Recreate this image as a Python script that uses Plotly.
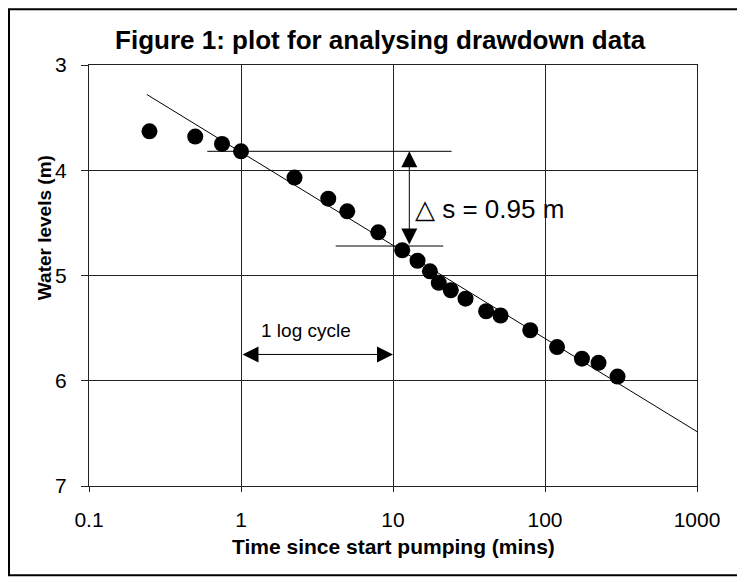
import plotly.graph_objects as go
import numpy as np

time_min = [0.25, 0.5, 0.75, 1, 2.25, 3.75, 5, 8, 11.5, 14.5, 17.5, 20, 24, 30,
            41, 51, 80, 120, 175, 225, 300]
water_level = [3.63, 3.68, 3.75, 3.82, 4.07, 4.27, 4.39, 4.59, 4.76, 4.86, 4.96,
               5.07, 5.14, 5.22, 5.34, 5.38, 5.52, 5.68, 5.79, 5.83, 5.96]

# Straight line fitted by eye (end points)
fit_time = [0.24, 1100]
fit_level = [3.28, 6.52]

# Axis ticks
x_tickvals = [0.1, 1, 10, 100, 1000]
x_ticktext = ["0.1", "1", "10", "100", "1000"]
y_tickvals = [3, 4, 5, 6, 7]

FONT = "Liberation Sans, Arial, sans-serif"

fig = go.Figure()

fig.add_trace(go.Scatter(
    x=fit_time, y=fit_level, mode="lines",
    line=dict(color="black", width=1), showlegend=False, hoverinfo="skip"
))
fig.add_trace(go.Scatter(
    x=time_min, y=water_level, mode="markers",
    marker=dict(color="black", size=16), showlegend=False
))

# delta-s construction lines
fig.add_shape(type="line", x0=0.60, x1=24.3, y0=3.82, y1=3.82,
              line=dict(color="black", width=1))
fig.add_shape(type="line", x0=4.2, x1=21.4, y0=4.72, y1=4.72,
              line=dict(color="black", width=1))

lx = np.log10(12.8)
fig.add_annotation(x=lx, y=3.82, ax=lx, ay=4.72, xref="x", yref="y",
                   axref="x", ayref="y", text="", showarrow=True,
                   arrowhead=2, arrowsize=3.2, arrowwidth=1, arrowside="end+start",
                   startarrowhead=2, startarrowsize=3.2, arrowcolor="black")
fig.add_annotation(x=np.log10(13.5), y=4.37, text="\u25b3 s = 0.95 m", showarrow=False,
                   xanchor="left", yanchor="middle", font=dict(size=26, color="black", family=FONT))

# 1 log cycle arrow
fig.add_annotation(x=1, y=5.75, ax=0, ay=5.75, xref="x", yref="y",
                   axref="x", ayref="y", text="", showarrow=True,
                   arrowhead=2, arrowsize=3.2, arrowwidth=1, arrowside="end+start",
                   startarrowhead=2, startarrowsize=3.2, arrowcolor="black")
fig.add_annotation(x=np.log10(2.68), y=5.52, text="1 log cycle", showarrow=False,
                   font=dict(size=19, color="black", family=FONT))

# axis titles
fig.add_annotation(x=0.5, y=-0.143, xref="paper", yref="paper", showarrow=False,
                   xanchor="center", yanchor="middle",
                   text="<b>Time since start pumping (mins)</b>",
                   font=dict(size=21, color="black", family=FONT))
fig.add_annotation(x=-0.072, y=0.613, xref="paper", yref="paper", showarrow=False,
                   xanchor="center", yanchor="middle",
                   textangle=-90, text="<b>Water levels (m)</b>",
                   font=dict(size=19, color="black", family=FONT))

# outer frame
fig.add_shape(type="rect", xref="paper", yref="paper",
              x0=-0.1316, x1=1.069, y0=-0.212, y1=1.1327,
              line=dict(color="black", width=2))

fig.update_layout(
    width=737, height=574,
    margin=dict(l=81, r=48, t=57, b=96),
    plot_bgcolor="white", paper_bgcolor="white",
    font=dict(family=FONT, color="black", size=20),
    title=dict(text="<b>Figure 1: plot for analysing drawdown data</b>",
               x=0.505, xref="container", xanchor="center",
               y=0.944, yref="container", yanchor="middle",
               font=dict(size=26, color="black", family=FONT)),
)

fig.update_xaxes(type="log", range=[-1, 3], tickvals=x_tickvals, ticktext=x_ticktext,
                 showgrid=True, gridcolor="#222", gridwidth=1,
                 showline=True, linecolor="#222", linewidth=1, mirror=True,
                 ticks="outside", ticklen=5, tickcolor="#222", ticklabelstandoff=10,
                 tickfont=dict(size=21), zeroline=False)
fig.update_yaxes(range=[7, 3], tickvals=y_tickvals,
                 showgrid=True, gridcolor="#222", gridwidth=1,
                 showline=True, linecolor="#222", linewidth=1, mirror=True,
                 ticks="outside", ticklen=7, tickcolor="#222", ticklabelstandoff=10,
                 tickfont=dict(size=21), zeroline=False)

fig.write_html("out.html")
